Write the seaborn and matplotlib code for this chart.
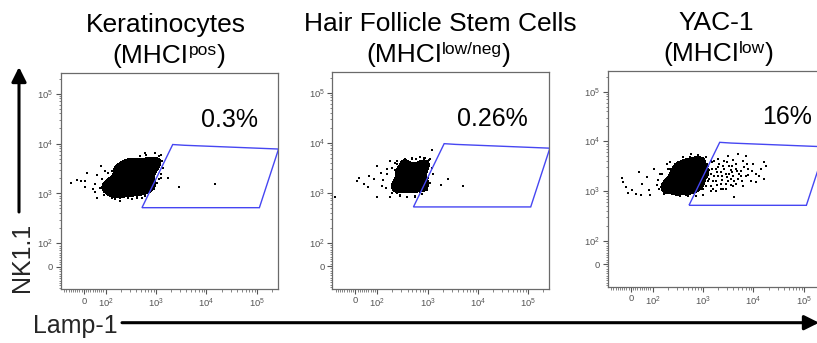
import numpy as np
import pandas as pd
import matplotlib
matplotlib.use("Agg")
import matplotlib.pyplot as plt
import seaborn as sns
from matplotlib.colors import ListedColormap
from matplotlib.patches import FancyArrowPatch
from matplotlib.transforms import offset_copy
from matplotlib.ticker import FixedLocator, FixedFormatter, NullFormatter

# ---------------- data ----------------
titles = ["Keratinocytes", "Hair Follicle Stem Cells", "YAC-1"]
mhc_status = ["pos", "low/neg", "low"]
gate_percent = ["0.3%", "0.26%", "16%"]

# dense (core) events
lamp1_kc_core = [741, 968, 565, 810, 428, 615, 930, 298, 470, 741, 207, 341, 565, 151, 248, 410,
                 676, 110, 181, 298, 490, 132, 217, 357, 96, 166, 272, 120, 1165, 248, 390,
                 173, 237, 298, 132, 590, 810, 968, 1165, 428, 189, 96]
nk11_kc_core = [4960, 4530, 4130, 3780, 3440, 3137, 3000, 2870, 2615, 2496, 2385, 2180, 2080, 1986,
                1897, 1730, 1730, 1654, 1580, 1510, 1378, 1316, 1257, 1147, 1147, 1047, 955, 912,
                4130, 3290, 4530,
                3600, 4130, 4530, 2870, 1047, 1147, 1442, 1986, 870, 832, 1510]
# sparse events
lamp1_kc_sparse = [-58, -32, -12, 6, 14, 6, 40, 51, 59, 79, 51, 97, 113, 153, 190, 280, 330, 220,
                   640, 940, 1270, 1700, 1270, 2790, 520, 810, 410, 14800,
                   272, 357, 470, 1165, 1330, 1400, 1270, 1060, 930, 741, 590, 428, 330, 189, 132,
                   91, 73, 82, 110, 145, 189, 59, 237, 590]
nk11_kc_sparse = [1650, 1840, 1740, 1790, 2620, 1320, 1220, 1050, 830, 3550, 1530, 2820, 970, 770,
                  830, 810, 4140, 3040, 6030, 6530, 6030, 2010, 2420, 1320, 830, 1130, 900, 1530,
                  4130, 4960, 5690, 5690, 4530, 3290, 2080, 1654, 1257, 1047, 870, 796, 760, 693, 796,
                  912, 1316, 1986, 2615, 3137, 3780, 2385, 4530, 6530]

lamp1_hfsc_core = [891, 708, 794, 562, 631, 891, 447, 501, 708, 355, 398, 562, 282, 316, 447, 224, 251,
                   355, 200, 631, 794, 501, 1000, 398, 282,
                   224, 316, 794, 1000, 251, 355, 891]
nk11_hfsc_core = [4169, 3802, 3162, 3311, 2630, 2512, 2818, 2239, 1995, 2399, 1778, 1585, 1995, 1514,
                  1259, 1660, 1259, 1122, 1318, 1318, 1778, 1047, 3548, 3548, 2630,
                  2818, 3981, 1122, 1585, 1000, 4169, 1259]
lamp1_hfsc_sparse = [7, 17, 40, 63, 59, 84, 100, 98, 117, 126, 158, 182, 182, 229, 251, 288, 363, 389,
                     490, 603, 832, 1230, 1122, 1023, 891, 708, 1862, 2570, 5010, -95, 562,
                     200, 251, 355, 501, 708, 1047, 1202, 1259, 1122, 955, 759, 562, 398, 282, 200,
                     151, 132, 158, 316, 891]
nk11_hfsc_sparse = [1738, 1995, 1479, 2188, 1288, 1862, 3467, 813, 2512, 1380, 2951, 4365, 813, 3981,
                    4365, 871, 4677, 813, 5012, 4677, 5012, 7079, 4677, 1995, 1380, 1023, 1445, 1862,
                    1349, 813, 813,
                    3162, 3802, 4467, 4786, 5248, 4467, 3162, 2399, 1585, 1122, 933, 851, 832, 891,
                    1000, 1259, 1778, 2399, 3548, 5012]

lamp1_yac1_core = [794, 1000, 631, 891, 501, 708, 398, 562, 316, 447, 251, 355, 200, 282, 631, 891,
                   1122, 501, 224, 158, 398, 1000, 794, 316, 178,
                   224, 316, 447, 708, 1000, 562, 316, 200, 1259]
nk11_yac1_core = [3981, 3162, 3162, 2512, 2630, 2089, 2239, 1778, 1905, 1413, 1585, 1259, 1318, 1072,
                  1122, 1585, 1995, 3548, 1995, 1413, 955, 4169, 1259, 2818, 1122,
                  2818, 3802, 4169, 4467, 1122, 891, 933, 1000, 2512]
lamp1_yac1_sparse = [1259, 1413, 1585, 1778, 1995, 2239, 2512, 2818, 3162, 3548, 3981, 4467, 5012,
                     5623, 6310, 7079, 7943, 8913, 10000, 11220, 14125, 15850, 1995, 3162, 5012, 1585,
                     2818, 17780, 1122, 3981, 4169, 7079, 16220, 11220,
                     -42, -37, -23, 6, -14, 23, 39, 53, 45, 76, 83, 90, 105, 120, 141, 166, 191, 224,
                     302, 407, 589, 468,
                     200, 282, 398, 562, 794, 1122, 1000, 708, 501, 355, 251, 178, 132, 126, 151, 1413,
                     1259, 1318, 1514, 1660, 1905, 1995, 2239, 2399, 2630, 3020, 3311, 3548, 3802,
                     4169, 4571, 5248, 6026, 6607, 7943, 9550, 1778, 2512, 1413, 3981,
                     1202, 1318, 1413, 1514, 1660, 1778, 1905, 2089, 2239, 2399, 2630, 2818, 3020,
                     3311, 3548, 3802, 4467, 4786, 5623, 6310, 7586, 12590]
nk11_yac1_sparse = [3162, 2239, 1585, 2818, 1995, 1413, 3162, 2239, 1585, 2630, 1995, 3548, 1778, 2512,
                    3981, 1995, 2818, 1585, 3548, 2239, 2818, 1778, 4467, 5012, 5623, 1122, 1122, 3162,
                    1259, 1259, 776, 5129, 3802, 1514,
                    1820, 1514, 1230, 1047, 933, 891, 2399, 1413, 851, 1905, 1047, 832, 2818, 1318,
                    2239, 891, 3548, 3802, 891, 4786, 5495, 832,
                    2818, 3548, 4169, 4786, 5248, 4786, 832, 794, 794, 794, 891, 933, 1122, 1660,
                    2239, 1000,
                    1585, 2630, 3802, 1995, 1318, 3020, 2399, 1660, 3981, 1905, 3162, 1318, 2399,
                    1585, 2818, 2239, 1585, 3020, 2089, 2512, 1000, 1122, 3981, 4169,
                    3548, 1778, 1259, 2818, 3981, 1585, 2399, 3548, 1122, 1995, 2818, 1413, 3802,
                    2239, 1778, 3162, 1413, 2512, 1995, 1259, 3548, 1995]

gate_lamp1 = [525, 2138, 3630, 269000, 112000]
gate_nk11 = [519, 9550, 9230, 7760, 519]

tick_values = [0, 1e2, 1e3, 1e4, 1e5]
tick_labels = ["0", "$10^2$", "$10^3$", "$10^4$", "$10^5$"]

panels = [(lamp1_kc_core, nk11_kc_core, lamp1_kc_sparse, nk11_kc_sparse),
          (lamp1_hfsc_core, nk11_hfsc_core, lamp1_hfsc_sparse, nk11_hfsc_sparse),
          (lamp1_yac1_core, nk11_yac1_core, lamp1_yac1_sparse, nk11_yac1_sparse)]

# ---------------- style ----------------
sns.set_theme(style="ticks")
plt.rcParams["font.family"] = ["Liberation Sans", "DejaVu Sans"]
plt.rcParams["mathtext.fontset"] = "custom"
plt.rcParams["mathtext.rm"] = "Liberation Sans"
plt.rcParams["mathtext.it"] = "Liberation Sans:italic"
plt.rcParams["mathtext.bf"] = "Liberation Sans:bold"

W, H = 817, 343
fig = plt.figure(figsize=(W / 100, H / 100), dpi=100)
fig.patch.set_facecolor("white")
renderer = fig.canvas.get_renderer()

# axes boxes in pixels: left, top, right, bottom
boxes = [(60.7, 72.7, 278.0, 289.3),
         (332.3, 71.7, 549.3, 288.7),
         (607.7, 70.7, 825.0, 286.7)]
pct_pos = [(0.779, 0.78), (0.737, 0.78), (0.825, 0.784)]
title_x = [0.485, 0.5, 0.5]
sub_x = [0.5, 0.49, 0.51]

minor = [v for v in range(-100, 101, 10) if v not in (0, 100, -100)]
for e in range(2, 6):
    minor += [k * 10 ** e for k in range(2, 10) if k * 10 ** e < 262144]

black_cmap = ListedColormap(["black"])


def superscript_line(ax, xf, yf, base, sup, close, size=19, sup_size=12.5, raise_px=8):
    parts = [(base, size, 0), (sup, sup_size, raise_px), (close, size, 0)]
    widths = []
    for s, fs, _ in parts:
        probe = fig.text(0, 0, s, fontsize=fs)
        widths.append(probe.get_window_extent(renderer).width)
        probe.remove()
    x = -sum(widths) / 2
    for (s, fs, dy), w in zip(parts, widths):
        tr = offset_copy(ax.transAxes, fig=fig, x=x, y=dy, units="dots")
        ax.text(xf, yf, s, transform=tr, fontsize=fs, ha="left", va="baseline",
                color="black", clip_on=False)
        x += w


for i, (cx, cy, sx, sy) in enumerate(panels):
    l, t, r, b = boxes[i]
    rect = [l / W, 1 - b / H, (r - l) / W, (b - t) / H]
    kax = fig.add_axes(rect, zorder=0)
    ax = fig.add_axes(rect, zorder=1)
    ax.patch.set_alpha(0)

    ax.set_xscale("symlog", linthresh=100, linscale=0.39)
    ax.set_yscale("symlog", linthresh=100, linscale=0.42)
    xlim = (-106, 262144)
    ylim = (-97, 262144)

    core = pd.DataFrame({"Lamp-1": np.asarray(cx, float), "NK1.1": np.asarray(cy, float)})
    events = pd.DataFrame({"Lamp-1": np.asarray(list(cx) + list(sx), float),
                           "NK1.1": np.asarray(list(cy) + list(sy), float)})

    # dense core: KDE computed in the axis' own (biexponential-like) scale space
    tx = ax.xaxis.get_transform()
    ty = ax.yaxis.get_transform()
    u = np.asarray(tx.transform(core["Lamp-1"].to_numpy()), float)
    v = np.asarray(ty.transform(core["NK1.1"].to_numpy()), float)
    sns.kdeplot(x=u, y=v, fill=True, levels=[0.27, 1.0], cmap=black_cmap,
                bw_adjust=0.8, ax=kax)
    kax.set_xlim(tx.transform(np.array(xlim, float)))
    kax.set_ylim(ty.transform(np.array(ylim, float)))
    kax.set_axis_off()

    sns.scatterplot(data=events, x="Lamp-1", y="NK1.1", ax=ax, color="black", marker="s",
                    s=3.4, linewidth=0, zorder=3)
    ax.fill(gate_lamp1, gate_nk11, fill=False, edgecolor="#4646f2", lw=1.0, zorder=4)

    ax.set_xlim(*xlim)
    ax.set_ylim(*ylim)
    ax.set_xlabel("")
    ax.set_ylabel("")

    for axis in (ax.xaxis, ax.yaxis):
        axis.set_major_locator(FixedLocator(tick_values))
        axis.set_major_formatter(FixedFormatter(tick_labels))
        axis.set_minor_locator(FixedLocator(minor))
        axis.set_minor_formatter(NullFormatter())
    ax.tick_params(which="major", direction="out", length=3.5, width=0.8, color="#555555",
                   labelsize=6.8, labelcolor="#555555", pad=2)
    ax.tick_params(which="minor", direction="out", length=1.8, width=0.5, color="#555555")
    for s in ax.spines.values():
        s.set_color("#6a6a6a")
        s.set_linewidth(0.9)

    ax.text(pct_pos[i][0], pct_pos[i][1], gate_percent[i], transform=ax.transAxes,
            ha="center", va="center", fontsize=18, color="black")
    ax.text(title_x[i], 1.189, titles[i], transform=ax.transAxes, ha="center",
            va="baseline", fontsize=19, color="black", clip_on=False)
    superscript_line(ax, sub_x[i], 1.043, "(MHCI", mhc_status[i], ")")

# axis titles with arrows
arrow = dict(arrowstyle="-|>", color="black", lw=2.2, mutation_scale=22, shrinkA=0, shrinkB=0)
fig.add_artist(FancyArrowPatch((19 / W, 1 - 212 / H), (19 / W, 1 - 67 / H),
                               transform=fig.transFigure, **arrow))
fig.add_artist(FancyArrowPatch((122 / W, 1 - 322.7 / H), (819 / W, 1 - 322.7 / H),
                               transform=fig.transFigure, **arrow))
fig.text(22 / W, 1 - 257.5 / H, "NK1.1", rotation=90, ha="center", va="center", fontsize=18)
fig.text(33 / W, 1 - 333.3 / H, "Lamp-1", ha="left", va="baseline", fontsize=18)

fig.savefig("out.png", dpi=100, facecolor="white")
